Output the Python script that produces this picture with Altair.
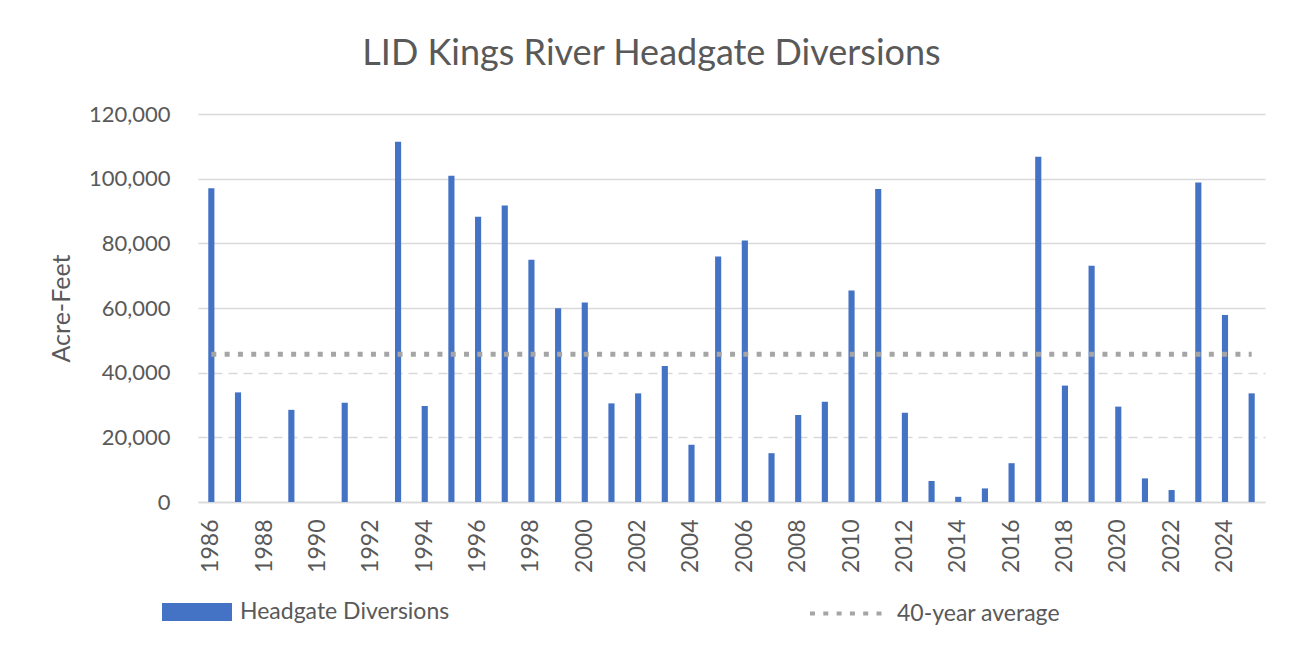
import altair as alt
import pandas as pd

years = list(range(1986, 2026))
diversions = [97000, 33900, 0, 28500, 0, 30700, 0, 111400, 29700, 100900,
              88200, 91700, 74900, 59900, 61700, 30500, 33600, 42100, 17700, 75900,
              80900, 15100, 26900, 31000, 65400, 96800, 27600, 6500, 1600, 4200,
              12000, 106800, 36000, 73100, 29500, 7300, 3700, 98800, 57800, 33600]
average_40yr = 45700
label_years = list(range(1986, 2026, 2))
y_ticks = [0, 20000, 40000, 60000, 80000, 100000, 120000]

bar_series = "Headgate Diversions"
avg_series = "40-year average"

df = pd.DataFrame({
    "year": years,
    "value": diversions,
    "series": [bar_series] * len(years),
    "avg": [average_40yr] * len(years),
    "avg_series": [avg_series] * len(years),
})

FONT = "Lato"
TXT = "#595959"

x_enc = alt.X(
    "year:O",
    scale=alt.Scale(domain=years, paddingInner=0.77, paddingOuter=0.385),
    axis=alt.Axis(values=label_years, labelAngle=270, ticks=False, labelPadding=17,
                  labelFontSize=23, labelColor=TXT, labelFont=FONT,
                  domainColor="#D9D9D9", domainWidth=1.5, title=None),
)

bars = alt.Chart(df).mark_bar().encode(
    x=x_enc,
    y=alt.Y(
        "value:Q",
        scale=alt.Scale(domain=[0, 120000], nice=False),
        axis=alt.Axis(values=y_ticks, format=",.0f", ticks=False, domain=False,
                      labelPadding=28, labelFontSize=22, labelColor=TXT, labelFont=FONT,
                      title="Acre-Feet", titleFontSize=25, titleColor=TXT, titleFont=FONT,
                      titleFontWeight="normal", titlePadding=14,
                      gridColor="#D9D9D9", gridWidth=1.3,
                      gridDash=alt.condition("datum.value > 0 && datum.value <= 40000",
                                             alt.value([9, 6]), alt.value([]))),
    ),
    color=alt.Color(
        "series:N",
        scale=alt.Scale(domain=[bar_series], range=["#4472C4"]),
        legend=alt.Legend(title=None, orient="none", legendX=-36, legendY=463,
                          symbolType="M-1,-0.26H1V0.26H-1Z", symbolSize=4900,
                          symbolStrokeWidth=0, labelOffset=8, labelFontSize=23,
                          labelLimit=400, labelColor=TXT, labelFont=FONT, padding=0),
    ),
)

avg_line = alt.Chart(df).mark_line(color="#A5A5A5", strokeWidth=5).encode(
    x=alt.X("year:O"),
    y=alt.Y("avg:Q"),
    strokeDash=alt.StrokeDash(
        "avg_series:N",
        scale=alt.Scale(domain=[avg_series], range=[[5, 8.3]]),
        legend=alt.Legend(title=None, orient="none", legendX=610, legendY=459,
                          symbolType="stroke", symbolSize=5929, symbolStrokeWidth=4,
                          symbolStrokeColor="#A5A5A5", labelOffset=8, labelFontSize=23,
                          labelLimit=400, labelColor=TXT, labelFont=FONT, padding=0),
    ),
)

chart = alt.layer(bars, avg_line).properties(
    width=1067,
    height=388,
    autosize=alt.AutoSizeParams(type="none"),
    padding={"left": 190, "top": 106, "right": 22, "bottom": 140},
    background="white",
    title=alt.TitleParams("LID Kings River Headgate Diversions", fontSize=36, font=FONT,
                          color=TXT, fontWeight="normal", anchor="middle", dx=-80, offset=30),
).configure_view(strokeWidth=0, stroke="transparent")

chart.save("out.html", embed_options={"renderer": "svg", "actions": False})
